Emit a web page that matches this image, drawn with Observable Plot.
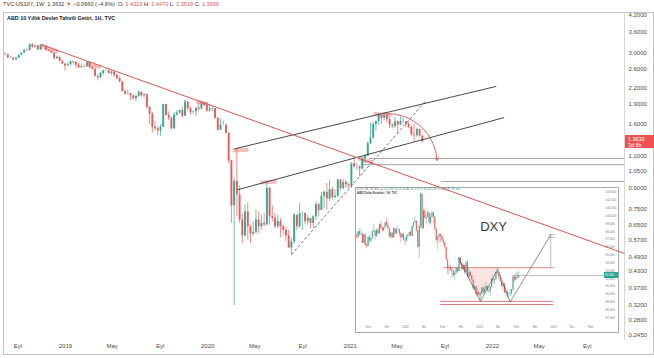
<!DOCTYPE html>
<html><head><meta charset="utf-8">
<script src="https://cdn.jsdelivr.net/npm/d3@7"></script>
<script src="https://cdn.jsdelivr.net/npm/@observablehq/plot@0.6"></script>
<style>
html,body{margin:0;padding:0;background:#fff;}
#wrap{position:relative;width:654px;height:358px;overflow:hidden;font-family:"Liberation Sans",Arial,sans-serif;}
#wrap svg{position:absolute;left:0;top:0;}
.frame{position:absolute;left:3px;top:12px;width:651px;height:343px;outline:1px solid #c4c4c4;outline-offset:-1px;}
.sep{position:absolute;left:624px;top:12px;width:1px;height:328px;background:#d6d6d6;}
.hdr{position:absolute;left:3px;top:1px;font-size:5.6px;line-height:7px;color:#333;white-space:nowrap;}
.hdr .r{color:#e25252}
.ttl{position:absolute;left:7px;top:15px;font-size:5.4px;line-height:7px;font-weight:bold;color:#222;white-space:nowrap;}
.badge{position:absolute;left:625px;width:29px;height:13px;background:#ef5350;color:#fff;font-size:5.4px;line-height:6px;padding:0.5px 0 0 3px;box-sizing:border-box;}
#inset{position:absolute;left:355px;top:187px;width:264px;height:146px;background:#fff;outline:1px solid #a9a9a9;outline-offset:-1px;overflow:hidden;}
#inset .ih{position:absolute;left:2px;top:1px;font-size:3px;line-height:3.5px;color:#666;white-space:nowrap;}
#inset .ih .g{color:#2a9d8f}
#inset .it{position:absolute;left:2px;top:5px;font-size:3px;line-height:3.5px;color:#444;font-weight:bold;white-space:nowrap;}
.ibadge{position:absolute;left:249px;width:14px;height:6px;background:#26a69a;color:#fff;font-size:3px;line-height:6px;padding-left:1px;box-sizing:border-box;}
</style></head>
<body><div id="wrap"></div>
<script>
// ---------- US10Y weekly candles (week starts), open = previous close ----------
const usStart = "2018-07-30";
const usOpen0 = 2.96;
const usClose = [
 2.95,2.87,2.87,2.82,2.86,2.94,3.00,3.07,3.06,3.23,3.16,3.20,3.08,3.21,3.19,3.08,3.04,2.99,2.85,2.89,2.79,2.72,2.67,
 2.70,2.78,2.76,2.69,2.63,2.66,2.65,2.76,2.63,2.59,2.44,2.41,2.50,2.56,2.56,2.50,2.53,2.46,2.39,2.32,2.13,2.08,2.09,2.05,2.00,2.04,2.12,2.05,2.07,1.85,1.74,1.55,1.53,1.50,1.55,1.90,1.72,1.68,1.53,1.73,1.76,1.80,1.71,1.94,1.83,1.77,1.78,1.84,1.82,1.92,1.88,1.79,
 1.82,1.83,1.68,1.51,1.58,1.58,1.47,1.15,0.77,0.96,0.85,0.68,0.59,0.73,0.64,0.60,0.61,0.68,0.64,0.66,0.65,0.90,0.70,0.69,0.64,0.67,0.64,0.62,0.59,0.53,0.56,0.71,0.64,0.72,0.72,0.67,0.69,0.66,0.70,0.78,0.74,0.84,0.87,0.82,0.89,0.83,0.84,0.97,0.90,0.95,0.93,0.92,
 1.12,1.09,1.09,1.07,1.17,1.20,1.34,1.41,1.59,1.63,1.72,1.68,1.72,1.66,1.58,1.56,1.63,1.58,1.63,1.63,1.59,1.55,1.45,1.44,1.52,1.4323,1.363];
const usHigh = [
 3.01,2.98,2.90,2.87,2.90,2.95,3.00,3.09,3.11,3.25,3.26,3.21,3.20,3.22,3.25,3.17,3.08,3.07,3.01,2.92,2.90,2.82,2.72,
 2.75,2.79,2.78,2.78,2.74,2.72,2.70,2.77,2.75,2.66,2.62,2.47,2.53,2.57,2.61,2.60,2.56,2.55,2.48,2.43,2.33,2.16,2.16,2.10,2.06,2.06,2.14,2.12,2.09,2.09,1.86,1.77,1.63,1.56,1.59,1.90,1.87,1.78,1.70,1.77,1.80,1.81,1.85,1.97,1.95,1.85,1.79,1.84,1.92,1.95,1.94,1.93,
 1.89,1.86,1.82,1.69,1.67,1.64,1.60,1.47,1.16,0.99,1.28,0.92,0.72,0.78,0.79,0.65,0.67,0.74,0.73,0.71,0.72,0.96,0.91,0.77,0.72,0.71,0.69,0.65,0.64,0.62,0.58,0.72,0.71,0.79,0.73,0.72,0.71,0.69,0.71,0.80,0.79,0.87,0.88,0.94,0.97,0.91,0.89,0.97,0.97,0.97,0.97,0.94,
 1.13,1.19,1.12,1.10,1.19,1.21,1.36,1.61,1.62,1.64,1.75,1.73,1.77,1.74,1.69,1.60,1.69,1.64,1.70,1.69,1.63,1.63,1.57,1.59,1.54,1.50,1.447];
const usLow = [
 2.93,2.85,2.85,2.80,2.81,2.86,2.93,3.00,3.05,3.06,3.13,3.13,3.07,3.07,3.17,3.05,3.03,2.98,2.82,2.84,2.77,2.70,2.55,
 2.66,2.69,2.70,2.62,2.62,2.63,2.63,2.64,2.61,2.58,2.42,2.34,2.39,2.46,2.55,2.49,2.45,2.41,2.37,2.30,2.12,2.06,2.07,1.97,1.97,1.94,2.02,2.02,2.01,1.82,1.59,1.47,1.50,1.44,1.43,1.56,1.71,1.64,1.51,1.52,1.71,1.74,1.69,1.76,1.79,1.73,1.74,1.70,1.78,1.84,1.87,1.77,
 1.77,1.78,1.66,1.50,1.51,1.57,1.46,1.12,0.66,0.318,0.70,0.66,0.55,0.66,0.57,0.55,0.59,0.60,0.60,0.62,0.64,0.65,0.65,0.67,0.63,0.63,0.58,0.59,0.56,0.53,0.50,0.55,0.62,0.63,0.62,0.65,0.65,0.63,0.63,0.68,0.70,0.74,0.75,0.74,0.80,0.81,0.82,0.83,0.88,0.89,0.90,0.90,
 0.90,1.08,1.06,1.00,1.06,1.12,1.21,1.33,1.39,1.50,1.58,1.59,1.65,1.61,1.53,1.53,1.53,1.46,1.58,1.60,1.55,1.53,1.43,1.36,1.42,1.42,1.351];

// axis ticks
const xTickDates = ["2018-09-01","2019-01-01","2019-05-01","2019-09-01","2020-01-01","2020-05-01","2020-09-01","2021-01-01","2021-05-01","2021-09-01","2022-01-01","2022-05-01","2022-09-01"];
const xTickLabels = ["Eyl","2019","May","Eyl","2020","May","Eyl","2021","May","Eyl","2022","May","Eyl"];
const yTicks = [4.2,3.6,3.0,2.6,2.2,1.9,1.6,1.2,1.05,0.9,0.75,0.65,0.57,0.49,0.43,0.37,0.32,0.28,0.245];
const lastPrice = 1.3630;

// drawings on the main chart: [date1, value1, date2, value2]
const trendRed = [["2018-10-29",3.24,"2022-12-06",0.505]];
const channelLines = [["2020-03-10",1.28,"2022-01-11",2.23],["2020-03-18",0.89,"2022-01-31",1.69]];
const dashedSupport = [["2020-08-03",0.50,"2021-07-15",1.97]];
const highlightStrokes = [
 ["2018-10-29",3.18,"2018-12-14",3.04],
 ["2019-02-24",2.73,"2019-04-01",2.64],
 ["2019-12-03",1.95,"2020-01-03",1.90],
 ["2020-03-05",1.262,"2020-04-15",1.27],
 ["2020-05-16",0.949,"2020-06-26",0.955],
 ["2021-01-22",1.175,"2021-03-01",1.134],
 ["2021-03-02",1.75,"2021-04-16",1.73]];
const levelValues = [1.175, 1.112, 0.957];
const levelStarts = ["2021-02-20","2021-01-29","2021-08-23"];
const arcArrow = [["2021-04-02",1.75,"2021-08-12",1.154]];

// ---------- DXY inset weekly candles ----------
const dxStart = "2019-05-06";
const dxOpen0 = 97.5;
const dxClose = [
 97.3,98.0,97.6,97.7,96.5,97.6,96.2,96.1,97.3,96.8,97.1,98.0,98.1,97.4,98.2,97.7,98.9,98.4,98.1,98.5,99.1,98.8,98.3,97.3,97.8,97.2,98.4,97.7,98.3,98.3,97.7,97.2,97.7,96.9,96.8,
 97.4,97.6,97.9,97.4,98.7,99.1,99.3,98.1,96.0,98.7,102.8,98.4,100.6,99.7,99.8,100.4,99.1,99.8,100.4,99.9,98.3,96.9,97.3,97.6,97.4,96.9,96.6,96.0,94.4,93.3,93.4,93.1,92.9,92.4,92.7,93.3,92.9,94.6,93.8,93.1,93.7,92.8,94.0,92.2,92.8,92.4,91.8,90.7,91.0,90.0,90.2,89.9,
 90.1,90.8,90.2,90.6,91.0,90.5,90.4,90.9,91.9,91.7,91.9,92.8,92.6,92.2,91.6,91.0,91.3,90.2,90.3,90.0,90.0,90.1,90.6,92.2,91.8,92.2,92.1,92.4];
const dxHigh = [
 97.8,98.0,98.4,98.3,97.8,97.6,97.7,96.5,97.3,97.6,97.2,98.1,98.9,98.0,98.3,98.4,99.0,99.4,98.6,98.6,99.3,99.7,99.2,98.4,97.9,97.9,98.4,98.5,98.3,98.6,98.3,97.9,97.7,97.7,97.2,
 97.4,97.6,97.9,98.2,98.7,99.1,99.9,99.4,98.2,98.9,103.0,102.8,100.9,100.9,100.1,100.9,100.4,100.2,100.6,100.4,99.9,98.4,97.4,97.8,97.7,97.6,97.2,96.6,95.9,94.4,93.8,93.7,93.3,93.2,93.0,93.6,93.3,94.7,94.7,94.0,93.9,93.7,94.3,94.3,93.2,92.9,92.5,91.9,91.2,91.0,90.7,90.4,
 90.2,90.9,90.9,91.0,91.6,91.0,91.0,91.0,92.1,92.5,92.0,92.9,93.4,92.8,92.2,91.6,91.4,91.4,90.9,90.5,90.2,90.6,90.6,92.4,92.4,92.7,92.8,92.9];
const dxLow = [
 97.0,97.1,97.5,97.6,96.5,96.5,96.1,95.8,96.0,96.6,96.6,97.1,97.9,97.0,97.3,97.6,97.7,98.3,97.9,98.0,98.4,98.6,98.2,97.2,97.1,97.1,97.2,97.7,97.8,98.2,97.3,96.6,97.2,96.8,96.2,
 96.6,97.0,97.3,97.4,97.4,98.5,99.2,97.9,95.9,94.6,98.3,98.3,98.3,99.5,98.9,99.8,98.9,98.8,99.7,99.0,98.1,96.5,95.7,96.5,96.6,96.6,96.2,95.7,94.3,92.5,92.5,92.9,92.1,92.1,91.7,92.6,92.7,93.0,93.6,93.0,93.0,92.5,92.8,92.1,92.1,92.1,91.7,90.5,90.5,89.7,89.8,89.7,
 89.2,89.9,90.0,89.9,90.4,90.2,90.1,89.7,90.7,91.4,91.3,91.8,92.5,91.9,91.5,90.8,90.4,90.1,89.7,89.6,89.5,89.7,89.8,90.4,91.5,91.8,91.9,92.0];
const dxXTickDates = ["2019-07-01","2019-10-01","2020-01-01","2020-04-01","2020-07-01","2020-10-01","2021-01-01","2021-04-01","2021-07-01","2021-10-01","2022-01-01","2022-04-01","2022-07-01"];
const dxXTickLabels = ["Tem","Eki","2020","Nis","Tem","Eki","2021","Nis","Tem","Eki","2022","Nis","Tem"];
const dxYTicks = [87,88,89,90,91,92,93,94,95,96,97,98,99,100,101,102,103];
const dxLast = 92.4;
const dxNeck = [["2020-07-06",93.4,"2022-01-01",93.4]];
const dxBottomLines = [["2020-06-21",89.1,"2021-12-28",89.1],["2020-06-21",88.7,"2021-12-28",88.7]];
const dxWDates = ["2020-09-18","2021-01-05","2021-03-31","2021-05-31","2021-12-17"];
const dxWValues = [94.7,89.1,93.2,89.0,97.6];
const dxShadeDates = ["2020-10-13","2021-01-05","2021-03-31"];
const dxShadeLows = [93.4,89.1,93.2];
const dxTarget = [["2021-12-17",93.4,"2021-12-17",97.6]];
const dxTargetCaps = [["2021-12-02",97.6,"2022-01-10",97.6],["2021-12-02",97.25,"2022-01-10",97.25]];
const dxLastLine = [["2021-06-08",92.4,"2022-09-03",92.4]];
const dxName = [["2021-03-10",98.66,"DXY"]];

// ---------- build ----------
if (usClose.length!==usHigh.length||usClose.length!==usLow.length) throw new Error("us lengths "+usClose.length+" "+usHigh.length+" "+usLow.length);
if (dxClose.length!==dxHigh.length||dxClose.length!==dxLow.length) throw new Error("dx lengths "+dxClose.length+" "+dxHigh.length+" "+dxLow.length);

const UP = "#33a897", DOWN = "#e65c5a", TREND = "#dc5555", INK = "#333";
const DAY = 864e5;
const d = s => new Date(s + "T00:00:00Z");
function candles(start, open0, close, high, low) {
  const t0 = +d(start);
  return close.map((c, i) => {
    const o = i === 0 ? open0 : close[i - 1];
    return {date: new Date(t0 + i * 7 * DAY), open: o, close: c,
      high: Math.max(high[i], o, c), low: Math.min(low[i], o, c), color: c >= o ? UP : DOWN};
  });
}
const seg = rows => rows.map(r => ({x1: d(r[0]), y1: r[1], x2: d(r[2]), y2: r[3]}));

const us = candles(usStart, usOpen0, usClose, usHigh, usLow);
const dx = candles(dxStart, dxOpen0, dxClose, dxHigh, dxLow);
const xLab = new Map(xTickDates.map((s, i) => [+d(s), xTickLabels[i]]));
const dxLab = new Map(dxXTickDates.map((s, i) => [+d(s), dxXTickLabels[i]]));
const levels = levelValues.map((v, i) => ({value: v, x1: d(levelStarts[i]), x2: d("2022-12-06")}));

const FONT = "Liberation Sans, Arial, sans-serif";
const common = {
  width: 654, height: 358, marginLeft: 3, marginRight: 30, marginTop: 12, marginBottom: 18,
  x: {type: "utc", domain: [d("2018-07-26"), d("2022-12-06")]},
  y: {type: "log", domain: [0.233, 4.30]},
  color: {type: "identity"}
};

const main = Plot.plot({
  ...common,
  style: {background: "transparent", fontFamily: FONT, overflow: "visible"},
  marks: [
    Plot.axisX({ticks: xTickDates.map(d), tickFormat: t => xLab.get(+t), tickSize: 0, tickPadding: 3, fontSize: 6, fill: "#4a4a4a", label: null}),
    Plot.axisY({anchor: "right", ticks: yTicks, tickFormat: d3.format(".4f"), tickSize: 0, tickPadding: 4, fontSize: 6, fill: "#4a4a4a", label: null}),
    Plot.link(seg(highlightStrokes), {x1: "x1", y1: "y1", x2: "x2", y2: "y2", stroke: "#e57373", strokeOpacity: 0.45, strokeWidth: 4}),
    Plot.ruleX(us, {x: "date", y1: "low", y2: "high", stroke: "color", strokeWidth: 0.7}),
    Plot.ruleX(us, {x: "date", y1: "open", y2: "close", stroke: "color", strokeWidth: 1.9}),
    Plot.link(seg(channelLines), {x1: "x1", y1: "y1", x2: "x2", y2: "y2", stroke: INK, strokeWidth: 0.9}),
    Plot.link(seg(dashedSupport), {x1: "x1", y1: "y1", x2: "x2", y2: "y2", stroke: "#555", strokeWidth: 0.8, strokeDasharray: "3,2"}),
    Plot.ruleY(levels, {y: "value", x1: "x1", x2: "x2", stroke: "#8c8c8c", strokeWidth: 0.8}),
    Plot.arrow(seg(arcArrow), {x1: "x1", y1: "y1", x2: "x2", y2: "y2", bend: 45, stroke: TREND, strokeWidth: 0.9, headLength: 5})
  ]
});

const overlay = Plot.plot({
  ...common,
  x: {...common.x, axis: null}, y: {...common.y, axis: null},
  style: {background: "transparent"},
  marks: [Plot.link(seg(trendRed), {x1: "x1", y1: "y1", x2: "x2", y2: "y2", stroke: TREND, strokeWidth: 1})]
});

const insetPlot = Plot.plot({
  width: 264, height: 146, marginLeft: 1, marginRight: 16, marginTop: 4, marginBottom: 11,
  x: {type: "utc", domain: [d("2019-05-05"), d("2022-09-03")]},
  y: {domain: [86.4, 103.13]},
  color: {type: "identity"},
  style: {background: "transparent", fontFamily: FONT},
  marks: [
    Plot.axisX({ticks: dxXTickDates.map(d), tickFormat: t => dxLab.get(+t), tickSize: 0, tickPadding: 3, fontSize: 3, fill: "#777", label: null}),
    Plot.axisY({anchor: "right", ticks: dxYTicks, tickFormat: d3.format(".3f"), tickSize: 0, tickPadding: 2, fontSize: 3, fill: "#777", label: null}),
    Plot.areaY(dxShadeDates.map((s, i) => ({date: d(s), top: 93.4, low: dxShadeLows[i]})), {x: "date", y1: "top", y2: "low", fill: "#f2a89f", fillOpacity: 0.3}),
    Plot.ruleX(dx, {x: "date", y1: "low", y2: "high", stroke: "color", strokeWidth: 0.45}),
    Plot.ruleX(dx, {x: "date", y1: "open", y2: "close", stroke: "color", strokeWidth: 1}),
    Plot.link(seg(dxNeck), {x1: "x1", y1: "y1", x2: "x2", y2: "y2", stroke: "#d9534f", strokeWidth: 0.7}),
    Plot.link(seg(dxBottomLines), {x1: "x1", y1: "y1", x2: "x2", y2: "y2", stroke: "#d9534f", strokeWidth: 0.8}),
    Plot.line(dxWDates.map((s, i) => ({date: d(s), v: dxWValues[i]})), {x: "date", y: "v", stroke: "#444", strokeWidth: 0.6}),
    Plot.link(seg(dxTarget), {x1: "x1", y1: "y1", x2: "x2", y2: "y2", stroke: "#777", strokeWidth: 0.5}),
    Plot.link(seg(dxTargetCaps), {x1: "x1", y1: "y1", x2: "x2", y2: "y2", stroke: "#888", strokeWidth: 0.5}),
    Plot.link(seg(dxLastLine), {x1: "x1", y1: "y1", x2: "x2", y2: "y2", stroke: "#999", strokeWidth: 0.6}),
    Plot.text(dxName, {x: r => d(r[0]), y: r => r[1], text: r => r[2], fontSize: 13, fill: "#3a3a3a"})
  ]
});

// ---------- assemble ----------
const wrap = document.getElementById("wrap");
wrap.appendChild(main);
const frame = document.createElement("div"); frame.className = "frame"; wrap.appendChild(frame);
const sep = document.createElement("div"); sep.className = "sep"; wrap.appendChild(sep);

const inset = document.createElement("div"); inset.id = "inset";
inset.appendChild(insetPlot);
inset.insertAdjacentHTML("beforeend",
  '<div class="ih">DXY, 1H &nbsp;92.405 <span class="g">▲ +0.235 (+0.25%)</span> A: <span class="g">92.170</span> Y: <span class="g">92.810</span> D: <span class="g">92.030</span> K: <span class="g">92.405</span></div>' +
  '<div class="it">ABD Dolar Endeksi, 1H, TVC</div>');
const ib = document.createElement("div"); ib.className = "ibadge";
ib.style.top = (insetPlot.scale("y").apply(dxLast) - 3) + "px"; ib.textContent = d3.format(".3f")(dxLast);
inset.appendChild(ib);
wrap.appendChild(inset);

wrap.appendChild(overlay);

wrap.insertAdjacentHTML("beforeend",
  '<div class="hdr">TVC:US10Y, 1W &nbsp;1.3632 <span class="r">▼</span> −0.0660 (−4.6%) &nbsp;O: <span class="r">1.4323</span> H: <span class="r">1.4470</span> L: <span class="r">1.3510</span> C: <span class="r">1.3630</span></div>' +
  '<div class="ttl">ABD 10 Yıllık Devlet Tahvili Getiri, 1H, TVC</div>');
const badge = document.createElement("div"); badge.className = "badge";
badge.style.top = (main.scale("y").apply(lastPrice) - 6) + "px";
badge.innerHTML = d3.format(".4f")(lastPrice) + "<br>3d 6h";
wrap.appendChild(badge);
</script></body></html>
